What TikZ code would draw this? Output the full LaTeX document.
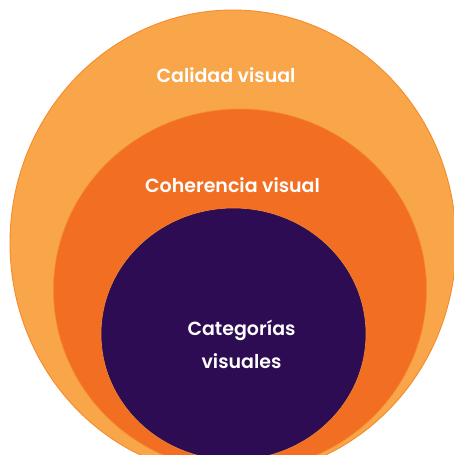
\documentclass[tikz,border=0pt]{standalone}
\usepackage{fontspec}
\setmainfont{Poppins}[UprightFont=*-SemiBold]
\usetikzlibrary{positioning}

\definecolor{calidad}{HTML}{F9A54A}
\definecolor{coherencia}{HTML}{F26E22}
\definecolor{categoria}{HTML}{2E0C53}
\definecolor{borde}{HTML}{F68B2B}

\begin{document}
\begin{tikzpicture}[x=1pt, y=-1pt]
        \tikzstyle{every node}+=[inner sep=0pt]
        \tikzstyle{rotulo}=[text=white, font=\fontsize{19}{33}\selectfont, align=center]
        \useasboundingbox (0,0) rectangle (454,455);
        \clip (0,0) rectangle (454,455);

        \draw [fill=calidad, draw=borde, line width=0.9pt] (233,243) ellipse (223 and 233);
        \draw [fill=coherencia, draw=borde, line width=0.6pt] (240,290) ellipse (186.5 and 181);
        \draw [fill=categoria, draw=borde, line width=0.6pt] (233.5,334) ellipse (132.5 and 126);

        \node [rotulo] (calidad) at (226,75) {Calidad visual};
        \node [rotulo] (coherencia) at (232.5,185) {Coherencia visual};
        \node [rotulo] (categorias) at (241.5,344) {Categorías\\visuales};
      \end{tikzpicture}
\end{document}
